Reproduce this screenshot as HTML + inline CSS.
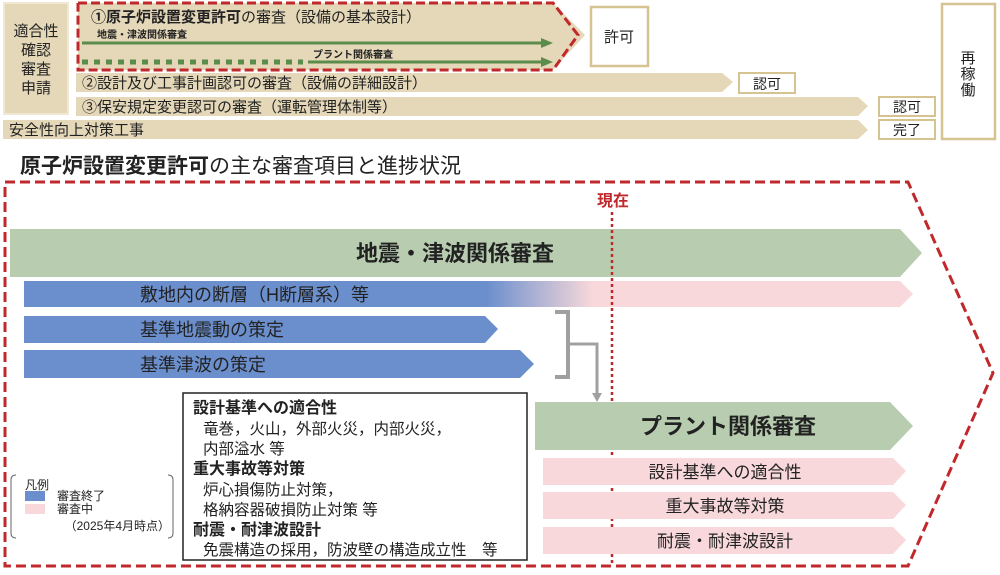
<!DOCTYPE html>
<html><head><meta charset="utf-8"><style>
body{margin:0;background:#fff}
svg{display:block}
text{font-family:"Liberation Sans","Noto Sans CJK JP",sans-serif;fill:#222}
</style></head><body>
<svg width="1000" height="575" viewBox="0 0 1000 575" xmlns="http://www.w3.org/2000/svg">
<defs>
<linearGradient id="g1" x1="0" x2="1" y1="0" y2="0">
<stop offset="0" stop-color="#6b8fcd"/>
<stop offset="0.52" stop-color="#6b8fcd"/>
<stop offset="0.64" stop-color="#f8d8da"/>
<stop offset="1" stop-color="#f8d8da"/>
</linearGradient>
</defs>
<rect x="4" y="3" width="64" height="111" fill="#e5d8b9" stroke="#f1e7d2" stroke-width="2"/>
<text x="36" y="36" font-size="15" text-anchor="middle">適合性</text>
<text x="36" y="55" font-size="15" text-anchor="middle">確認</text>
<text x="36" y="74" font-size="15" text-anchor="middle">審査</text>
<text x="36" y="93" font-size="15" text-anchor="middle">申請</text>

<polygon points="78,3 553,3 585,35 553,70 78,70" fill="#e5d8b9"/>
<polygon points="76,73 722,73 733,82 722,92 76,92" fill="#e5d8b9"/>
<polygon points="76,97 858,97 868,106 858,116 76,116" fill="#e5d8b9"/>
<polygon points="3,120 858,120 868,130 858,139 3,139" fill="#e5d8b9"/>
<polyline points="78,3 553,3 578,35 553,70 78,70 78,3" fill="none" stroke="#c0282b" stroke-width="3" stroke-dasharray="9,4"/>
<text x="91" y="22" font-size="15"><tspan font-weight="bold">①原子炉設置変更許可</tspan>の審査（設備の基本設計）</text>
<text x="97" y="38" font-size="10" font-weight="bold">地震・津波関係審査</text>
<line x1="82" y1="43" x2="543" y2="43" stroke="#5b8c4c" stroke-width="3"/>
<polygon points="541,38 553,43 541,48" fill="#5b8c4c"/>
<line x1="82" y1="62" x2="303" y2="62" stroke="#5b8c4c" stroke-width="5" stroke-dasharray="6,6"/>
<text x="313" y="58" font-size="10" font-weight="bold">プラント関係審査</text>
<line x1="308" y1="62" x2="543" y2="62" stroke="#5b8c4c" stroke-width="3"/>
<polygon points="541,57 553,62 541,67" fill="#5b8c4c"/>
<rect x="591" y="7" width="57" height="59" fill="#fff" stroke="#d6c392" stroke-width="2.5"/>
<text x="619" y="42" font-size="15" text-anchor="middle">許可</text>
<text x="82" y="88" font-size="15">②設計及び工事計画認可の審査（設備の詳細設計）</text>
<text x="82" y="112" font-size="15">③保安規定変更認可の審査（運転管理体制等）</text>
<text x="9" y="135" font-size="15">安全性向上対策工事</text>
<rect x="739" y="73" width="56" height="20" fill="#fff" stroke="#d6c392" stroke-width="2"/>
<text x="767" y="89" font-size="14" text-anchor="middle">認可</text>
<rect x="879" y="97" width="56" height="19" fill="#fff" stroke="#d6c392" stroke-width="2"/>
<text x="907" y="112" font-size="14" text-anchor="middle">認可</text>
<rect x="879" y="120" width="56" height="19" fill="#fff" stroke="#d6c392" stroke-width="2"/>
<text x="907" y="135" font-size="14" text-anchor="middle">完了</text>
<rect x="942" y="4" width="53" height="135" fill="#fff" stroke="#d6c392" stroke-width="2.5"/>
<text x="968" y="63" font-size="15" text-anchor="middle">再</text>
<text x="968" y="79" font-size="15" text-anchor="middle">稼</text>
<text x="968" y="95" font-size="15" text-anchor="middle">働</text>

<text x="20" y="173" font-size="21"><tspan font-weight="bold">原子炉設置変更許可</tspan>の主な審査項目と進捗状況</text>

<polygon points="5,182 908,182 993,373 908,566 5,566" fill="none" stroke="#c0282b" stroke-width="3" stroke-dasharray="10,5"/>

<polygon points="10,229 900,229 922,253 900,277 10,277" fill="#b8cdb0"/>
<text x="455" y="261" font-size="22" font-weight="bold" text-anchor="middle">地震・津波関係審査</text>
<polygon points="24,281 900,281 913,294 900,307 24,307" fill="url(#g1)"/>
<text x="140" y="301" font-size="18">敷地内の断層（H断層系）等</text>
<polygon points="24,316 485,316 498,329 485,343 24,343" fill="#6b8fcd"/>
<text x="140" y="336" font-size="18">基準地震動の策定</text>
<polygon points="24,350 520,350 534,364 520,378 24,378" fill="#6b8fcd"/>
<text x="140" y="371" font-size="18">基準津波の策定</text>

<polyline points="555,312 568,312 568,377 555,377" fill="none" stroke="#a0a0a0" stroke-width="4"/>
<polyline points="568,344 597,344 597,394" fill="none" stroke="#a0a0a0" stroke-width="3"/>
<polygon points="592,393 602,393 597,402" fill="#a0a0a0"/>

<text x="613" y="206" font-size="16" font-weight="bold" text-anchor="middle" style="fill:#c0282b">現在</text>
<line x1="612" y1="212" x2="612" y2="566" stroke="#c0282b" stroke-width="2.5" stroke-dasharray="3,3"/>

<polygon points="535,402 890,402 913,426 890,450 535,450" fill="#b8cdb0"/>
<text x="728" y="434" font-size="22" font-weight="bold" text-anchor="middle">プラント関係審査</text>
<polygon points="543,458 893,458 906,471 893,485 543,485" fill="#f8d8da"/>
<text x="725" y="478" font-size="17" text-anchor="middle">設計基準への適合性</text>
<polygon points="543,492 893,492 906,505 893,519 543,519" fill="#f8d8da"/>
<text x="725" y="512" font-size="17" text-anchor="middle">重大事故等対策</text>
<polygon points="543,527 893,527 906,540 893,554 543,554" fill="#f8d8da"/>
<text x="725" y="547" font-size="17" text-anchor="middle">耐震・耐津波設計</text>

<rect x="183" y="393" width="344" height="167" fill="#fff" stroke="#222" stroke-width="1.5"/>
<text x="193" y="413" font-size="16" font-weight="bold">設計基準への適合性</text>
<text x="203" y="434" font-size="15.5">竜巻，火山，外部火災，内部火災，</text>
<text x="203" y="454" font-size="15.5">内部溢水 等</text>
<text x="193" y="474" font-size="16" font-weight="bold">重大事故等対策</text>
<text x="203" y="495" font-size="15.5">炉心損傷防止対策，</text>
<text x="203" y="515" font-size="15.5">格納容器破損防止対策 等</text>
<text x="193" y="535" font-size="16" font-weight="bold">耐震・耐津波設計</text>
<text x="203" y="555" font-size="15.5">免震構造の採用，防波壁の構造成立性　等</text>

<path d="M16,475 Q11,475 11,480 L11,533 Q11,538 16,538" fill="none" stroke="#666" stroke-width="1"/>
<path d="M168,475 Q173,475 173,480 L173,533 Q173,538 168,538" fill="none" stroke="#666" stroke-width="1"/>
<text x="25" y="489" font-size="12">凡例</text>
<rect x="25" y="491" width="20" height="10" fill="#6b8fcd"/>
<text x="57" y="500" font-size="12">審査終了</text>
<rect x="25" y="504" width="20" height="10" fill="#f8d8da"/>
<text x="57" y="513" font-size="12">審査中</text>
<text x="170" y="530" font-size="12" text-anchor="end">（2025年4月時点）</text>
</svg>
</body></html>
